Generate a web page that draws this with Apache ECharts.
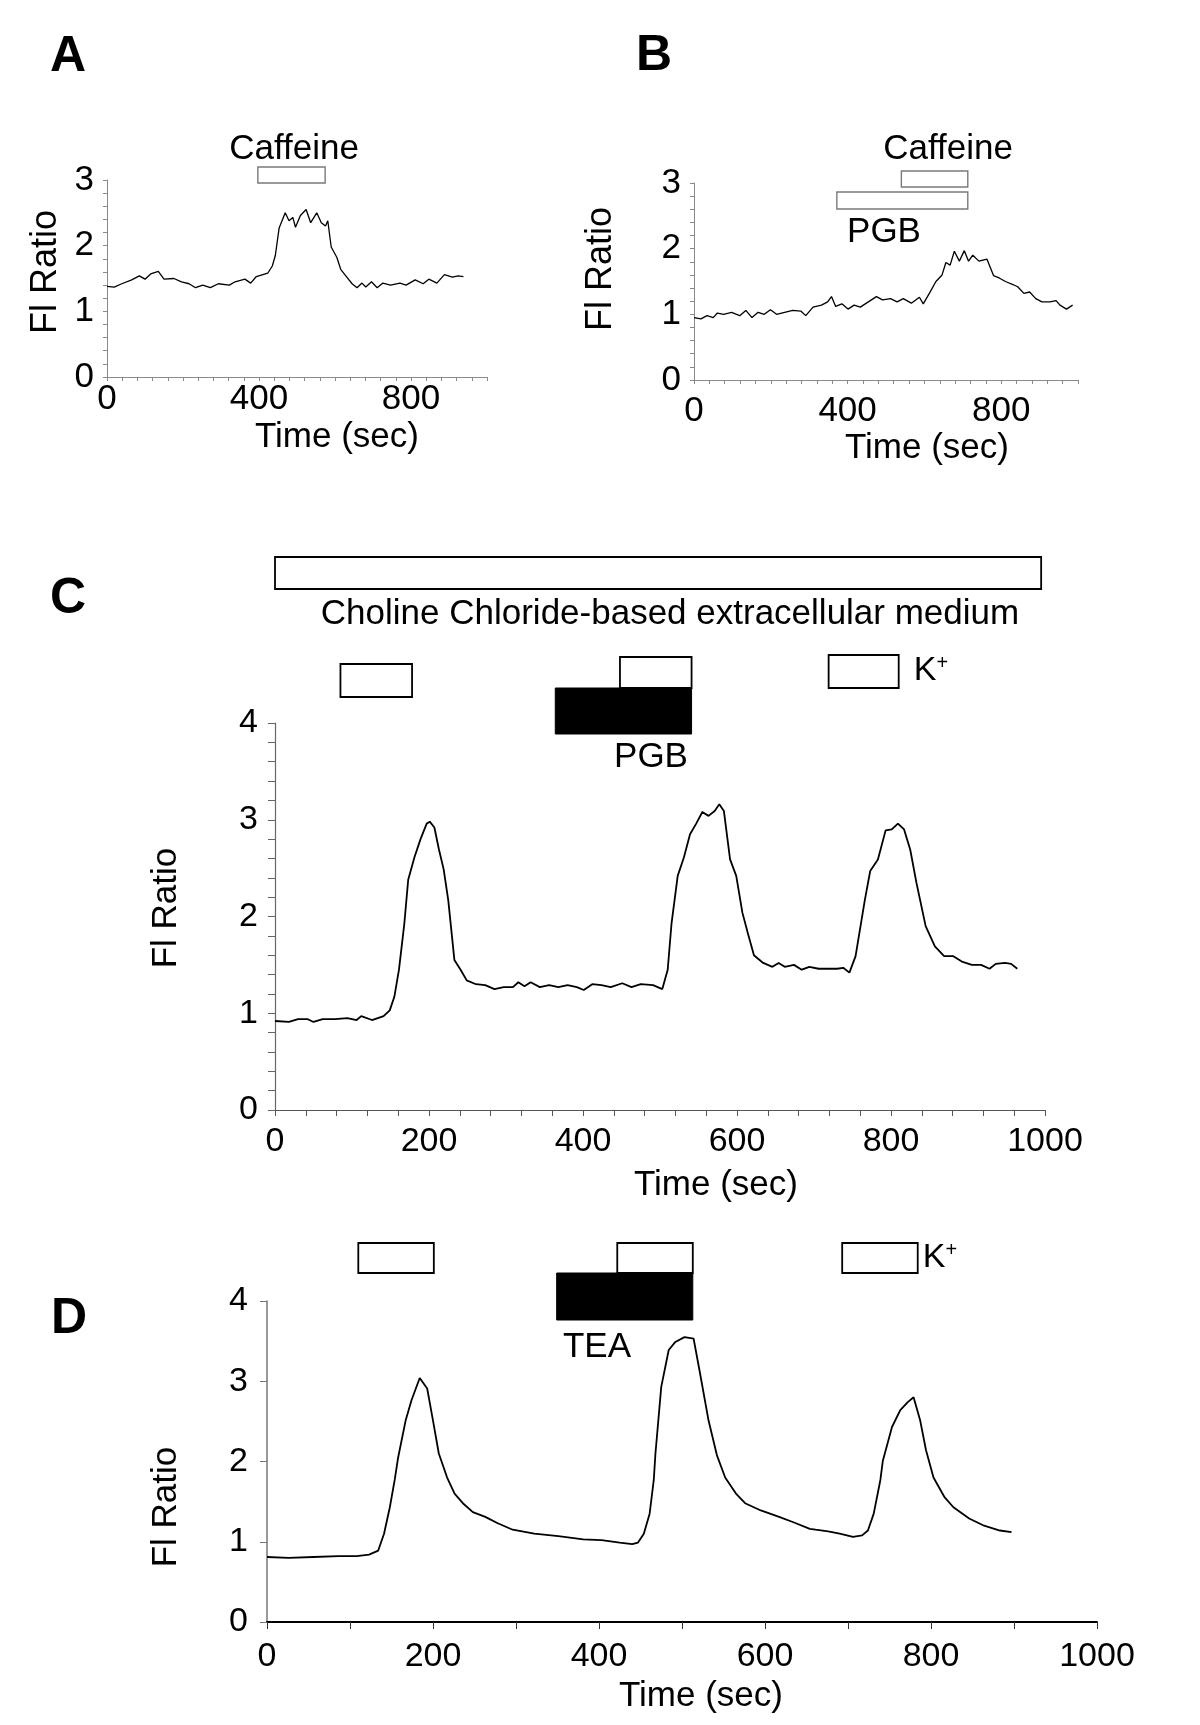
<!DOCTYPE html>
<html>
<head>
<meta charset="utf-8">
<script src="https://cdn.jsdelivr.net/npm/echarts/dist/echarts.min.js"></script>
<style>
  html, body { margin: 0; padding: 0; background: #fff; }
  #chart { width: 1200px; height: 1725px; }
</style>
</head>
<body>
<div id="chart"></div>
<script>
// ---------------- DATA ----------------
// Panel A: caffeine
const A_time  = [0,19,39,65,85,100,115,135,150,176,196,216,233,252,272,293,322,337,363,378,393,423,435,443,453,469,479,489,496,509,524,536,552,564,575,581,590,605,615,630,645,658,671,681,696,711,726,746,771,787,811,832,847,868,888,909,924,938];
const A_ratio = [1.38,1.37,1.42,1.48,1.54,1.49,1.57,1.61,1.49,1.50,1.45,1.42,1.36,1.40,1.36,1.42,1.40,1.45,1.49,1.43,1.53,1.58,1.69,1.85,2.27,2.50,2.38,2.43,2.28,2.46,2.55,2.35,2.50,2.35,2.30,2.38,1.98,1.82,1.64,1.53,1.42,1.36,1.43,1.37,1.45,1.36,1.43,1.40,1.43,1.40,1.48,1.42,1.49,1.43,1.56,1.52,1.54,1.53];
const A_caffeine = [397, 574];

// Panel B: PGB then caffeine
const B_time  = [0,18,34,50,61,77,98,119,135,151,167,183,199,215,236,257,278,291,310,332,348,358,369,385,401,417,433,454,475,491,512,529,545,566,587,597,614,630,646,656,667,678,691,704,715,726,742,763,780,796,811,832,843,859,874,890,906,927,943,953,970,986];
const B_ratio = [0.95,0.93,0.98,0.95,1.02,1.00,1.03,0.98,1.06,0.95,1.03,1.00,1.07,1.00,1.03,1.06,1.05,0.98,1.11,1.14,1.19,1.27,1.12,1.16,1.08,1.14,1.11,1.19,1.27,1.22,1.24,1.19,1.24,1.17,1.26,1.16,1.33,1.50,1.60,1.79,1.75,1.96,1.81,1.97,1.81,1.90,1.81,1.84,1.59,1.55,1.50,1.45,1.42,1.32,1.34,1.24,1.19,1.19,1.21,1.14,1.08,1.14];
const B_caffeine = [540, 713];
const B_pgb      = [372, 713];

// Panel C: K+ in choline chloride medium, PGB
const C_time  = [0,18,30,42,50,62,78,94,106,112,126,141,149,155,161,168,173,181,189,197,201,207,213,219,225,233,241,249,261,273,285,297,309,316,324,332,344,356,368,380,392,401,412,424,436,451,463,475,491,503,510,515,523,531,539,547,555,563,571,577,583,591,599,607,614,622,634,646,654,662,674,684,694,706,718,730,738,746,754,766,773,783,793,801,809,817,825,833,845,857,869,881,893,905,917,928,936,948,956,964];
const C_ratio = [0.92,0.91,0.94,0.94,0.91,0.94,0.94,0.95,0.93,0.97,0.93,0.97,1.03,1.17,1.45,1.93,2.38,2.61,2.80,2.96,2.98,2.92,2.69,2.49,2.17,1.55,1.45,1.34,1.30,1.29,1.25,1.27,1.27,1.32,1.28,1.32,1.27,1.29,1.27,1.29,1.27,1.24,1.30,1.29,1.27,1.31,1.27,1.30,1.29,1.25,1.45,1.93,2.42,2.61,2.85,2.96,3.08,3.04,3.09,3.16,3.09,2.59,2.42,2.04,1.83,1.60,1.52,1.48,1.52,1.48,1.50,1.45,1.48,1.46,1.46,1.46,1.47,1.42,1.59,2.17,2.47,2.59,2.89,2.90,2.96,2.90,2.69,2.35,1.90,1.69,1.59,1.59,1.53,1.50,1.50,1.46,1.51,1.52,1.51,1.46];
const C_choline = [0, 995];
const C_kplus   = [[85, 178], [448, 541], [719, 810]];
const C_pgb     = [364, 541];

// Panel D: K+ with TEA
const D_time  = [0,26,56,86,108,123,134,141,148,154,158,167,174,184,193,200,207,217,226,237,248,263,278,296,322,351,381,403,425,440,447,454,461,466,468,475,484,492,503,514,521,532,542,552,565,576,595,617,635,654,661,676,690,706,717,724,731,739,742,753,763,772,779,787,794,803,816,827,846,864,883,897];
const D_ratio = [0.81,0.80,0.81,0.82,0.82,0.84,0.89,1.10,1.43,1.78,2.05,2.51,2.76,3.04,2.91,2.51,2.10,1.80,1.60,1.47,1.37,1.31,1.23,1.15,1.10,1.07,1.03,1.02,0.99,0.97,0.99,1.10,1.35,1.77,2.10,2.93,3.39,3.49,3.55,3.53,3.14,2.51,2.08,1.80,1.60,1.48,1.39,1.31,1.24,1.16,1.15,1.13,1.10,1.06,1.08,1.14,1.35,1.77,2.01,2.43,2.64,2.74,2.80,2.51,2.14,1.80,1.56,1.43,1.29,1.20,1.14,1.12];
const D_kplus = [[110, 201], [422, 513], [693, 784]];
const D_tea   = [349, 513];

// Tick label settings
const A_xLabelEvery = 400, C_xLabelEvery = 200, D_xLabelEvery = 200;

// ---------------- CHART ----------------
const FONT = "'Liberation Sans', Arial, sans-serif";
const zip = (t, v) => t.map((x, i) => [x, v[i]]);
const isInt = v => Math.abs(v - Math.round(v)) < 1e-6;

const chart = echarts.init(document.getElementById('chart'), null, { renderer: 'canvas' });

const grids = [
  { left: 107, top: 180, width: 380, height: 197 },   // A
  { left: 694, top: 183, width: 384, height: 197 },   // B
  { left: 275, top: 723, width: 770, height: 387 },   // C
  { left: 267, top: 1301, width: 830, height: 321 }   // D
];

function xAxis(gi, interval, labelEvery, opts) {
  return {
    type: 'value', gridIndex: gi, min: 0, max: 1000, interval: interval,
    axisLine: { show: true, lineStyle: { color: opts.lineColor, width: opts.lineWidth } },
    axisTick: { show: true, length: opts.tickLen, lineStyle: { color: opts.tickColor || opts.lineColor, width: 1 } },
    axisLabel: {
      fontSize: opts.fontSize, fontFamily: FONT, color: '#000', margin: opts.margin,
      formatter: v => (Math.round(v) % labelEvery === 0 ? String(Math.round(v)) : '')
    },
    splitLine: { show: false }
  };
}
function yAxis(gi, max, interval, opts) {
  return {
    type: 'value', gridIndex: gi, min: 0, max: max, interval: interval,
    axisLine: { show: true, lineStyle: { color: opts.lineColor, width: opts.lineWidth } },
    axisTick: { show: true, length: opts.tickLen, lineStyle: { color: opts.lineColor, width: 1 } },
    axisLabel: {
      fontSize: opts.fontSize, fontFamily: FONT, color: '#000', margin: opts.margin,
      formatter: v => (isInt(v) ? String(Math.round(v)) : '')
    },
    splitLine: { show: false }
  };
}

function traceSeries(gi, t, v, width) {
  return {
    type: 'line', xAxisIndex: gi, yAxisIndex: gi, data: zip(t, v),
    showSymbol: false, symbol: 'none', smooth: false, animation: false,
    lineStyle: { color: '#000', width: width }, silent: true
  };
}

// boxes: spans in time units; layout = vertical pixel offsets relative to the grid's top edge
function boxSeries(gi, spans, layout) {
  return {
    type: 'custom', xAxisIndex: gi, yAxisIndex: gi, animation: false, silent: true, clip: false,
    encode: { x: [0, 1] },
    data: spans,
    renderItem: function (params, api) {
      const L = layout[params.dataIndex];
      const x0 = api.coord([api.value(0), 0])[0];
      const x1 = api.coord([api.value(1), 0])[0];
      const top = params.coordSys.y;
      return {
        type: 'rect',
        shape: { x: x0, y: top + L.y0, width: x1 - x0, height: L.y1 - L.y0 },
        style: { fill: L.fill, stroke: L.stroke, lineWidth: L.lw }
      };
    }
  };
}

const thinAxisX = { lineColor: '#8a8a8a', lineWidth: 1, tickLen: 4, fontSize: 35, margin: 5 };
const thinAxisXB = { lineColor: '#8a8a8a', lineWidth: 1, tickLen: 4, fontSize: 35, margin: 14 };
const thinAxisY = { lineColor: '#8a8a8a', lineWidth: 1, tickLen: 4, fontSize: 35, margin: 13 };
const cAxisX = { lineColor: '#555', lineWidth: 1.2, tickLen: 6, fontSize: 34, margin: 15 };
const cAxisY = { lineColor: '#666', lineWidth: 1.2, tickLen: 7, fontSize: 34, margin: 17 };
const dAxisX = { lineColor: '#000', lineWidth: 2, tickLen: 7, tickColor: '#333', fontSize: 34, margin: 18 };
const dAxisY = { lineColor: '#777', lineWidth: 1.5, tickLen: 7, fontSize: 34, margin: 19 };

const openGrey = { fill: '#fff', stroke: '#7a7a7a', lw: 1.4 };
const openBlack = { fill: '#fff', stroke: '#000', lw: 1.8 };
const solidBlack = { fill: '#000', stroke: '#000', lw: 1 };

function txt(text, x, y, size, extra) {
  return Object.assign({
    type: 'text', x: x, y: y, silent: true,
    style: { text: text, font: size + 'px ' + FONT, fill: '#000', align: 'center', verticalAlign: 'middle' }
  }, extra || {});
}
function bold(text, x, y, size) {
  return {
    type: 'text', x: x, y: y, silent: true,
    style: { text: text, font: 'bold ' + size + 'px ' + FONT, fill: '#000', align: 'center', verticalAlign: 'middle' }
  };
}
function vtxt(text, x, y, size) {
  return {
    type: 'text', x: x, y: y, rotation: Math.PI / 2, silent: true,
    style: { text: text, font: size + 'px ' + FONT, fill: '#000', align: 'center', verticalAlign: 'middle' }
  };
}
function kplus(x, y) {
  return {
    type: 'text', x: x, y: y, silent: true,
    style: {
      text: '{k|K}{s|+}', align: 'center', verticalAlign: 'middle',
      rich: {
        k: { fontSize: 34, fontFamily: FONT, fill: '#000', color: '#000', lineHeight: 36 },
        s: { fontSize: 20, fontFamily: FONT, fill: '#000', color: '#000', verticalAlign: 'top', lineHeight: 36, padding: [0, 0, 14, 0] }
      }
    }
  };
}

const option = {
  backgroundColor: '#fff',
  animation: false,
  grid: grids,
  xAxis: [
    xAxis(0, 40, A_xLabelEvery, thinAxisX),
    xAxis(1, 40, A_xLabelEvery, thinAxisXB),
    xAxis(2, 40, C_xLabelEvery, cAxisX),
    xAxis(3, 100, D_xLabelEvery, dAxisX)
  ],
  yAxis: [
    yAxis(0, 3, 0.2, thinAxisY),
    yAxis(1, 3, 0.2, thinAxisY),
    yAxis(2, 4, 0.2, cAxisY),
    yAxis(3, 4, 1, dAxisY)
  ],
  series: [
    traceSeries(0, A_time, A_ratio, 1.3),
    traceSeries(1, B_time, B_ratio, 1.3),
    traceSeries(2, C_time, C_ratio, 1.8),
    traceSeries(3, D_time, D_ratio, 1.8),
    boxSeries(0, [A_caffeine], [Object.assign({ y0: -13, y1: 3 }, openGrey)]),
    boxSeries(1, [B_caffeine, B_pgb], [
      Object.assign({ y0: -12, y1: 4 }, openGrey),
      Object.assign({ y0: 9, y1: 26 }, openGrey)
    ]),
    boxSeries(2, [C_choline], [Object.assign({ y0: -166, y1: -134 }, openBlack)]),
    boxSeries(2, [C_pgb], [Object.assign({ y0: -35, y1: 11 }, solidBlack)]),
    boxSeries(2, C_kplus, [
      Object.assign({ y0: -59, y1: -26 }, openBlack),
      Object.assign({ y0: -66, y1: -35 }, openBlack),
      Object.assign({ y0: -68, y1: -35 }, openBlack)
    ]),
    boxSeries(3, [D_tea], [Object.assign({ y0: -28, y1: 19 }, solidBlack)]),
    boxSeries(3, D_kplus, [
      Object.assign({ y0: -58, y1: -28 }, openBlack),
      Object.assign({ y0: -58, y1: -28 }, openBlack),
      Object.assign({ y0: -58, y1: -28 }, openBlack)
    ])
  ],
  graphic: [
    bold('A', 68, 57, 50),
    bold('B', 654, 56, 50),
    bold('C', 68, 599, 50),
    bold('D', 69, 1319, 50),
    // A
    txt('Caffeine', 294, 149, 35),
    vtxt('Fl Ratio', 46, 272, 36),
    txt('Time (sec)', 337, 437, 35),
    // B
    txt('Caffeine', 948, 149, 35),
    txt('PGB', 884, 232, 35),
    vtxt('Fl Ratio', 601, 269, 36),
    txt('Time (sec)', 927, 448, 35),
    // C
    txt('Choline Chloride-based extracellular medium', 670, 614, 35),
    kplus(931, 671),
    txt('PGB', 651, 757, 35),
    vtxt('Fl Ratio', 166, 908, 35),
    txt('Time (sec)', 716, 1185, 35),
    // D
    kplus(940, 1258),
    txt('TEA', 597, 1347, 35),
    vtxt('Fl Ratio', 166, 1507, 35),
    txt('Time (sec)', 701, 1696, 35)
  ]
};
chart.setOption(option);
</script>
</body>
</html>
